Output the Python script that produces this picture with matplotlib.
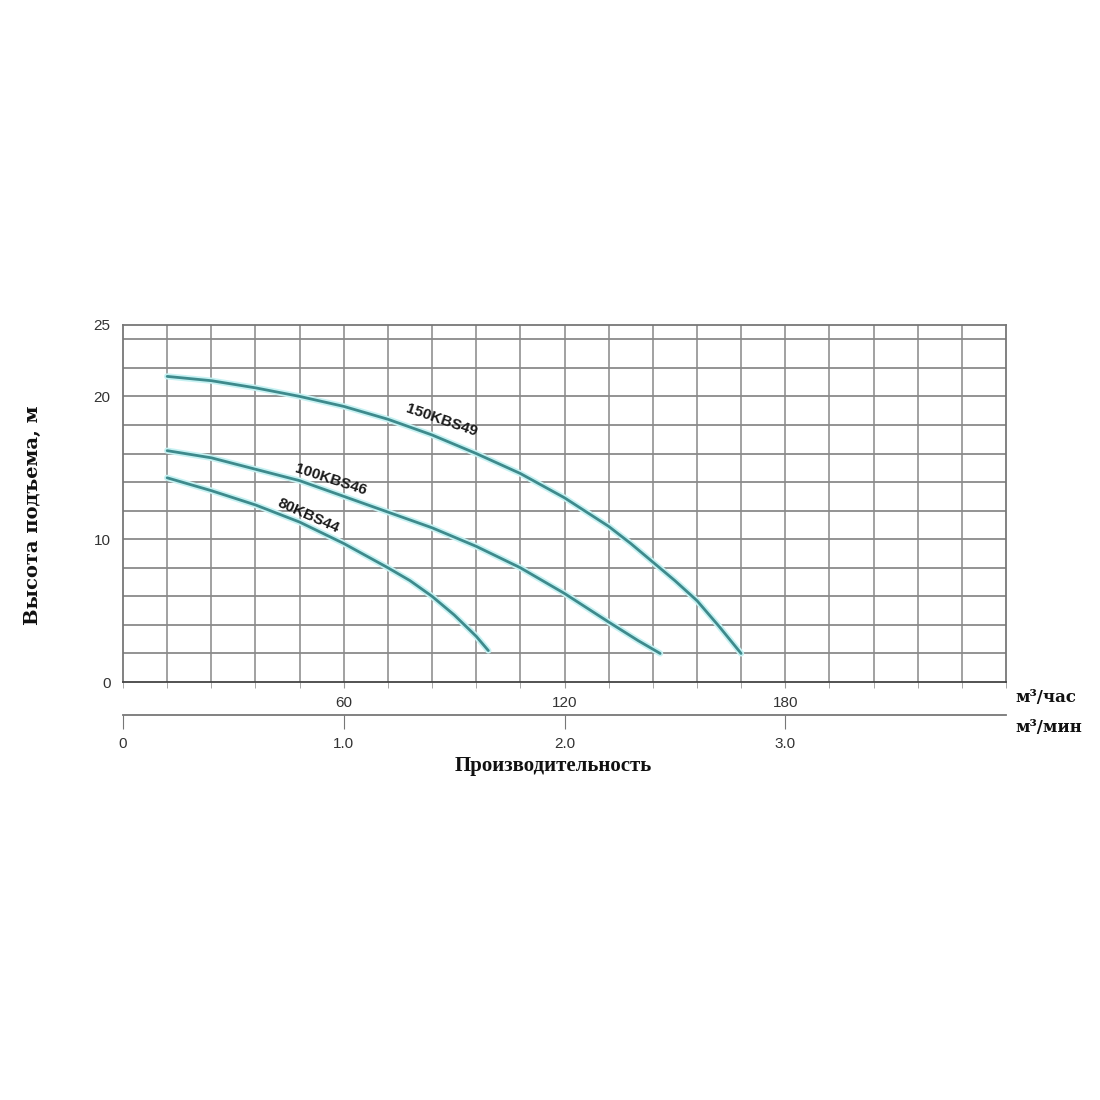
import numpy as np
import matplotlib
matplotlib.use("Agg")
import matplotlib.pyplot as plt
from matplotlib.ticker import MultipleLocator, FixedLocator

# flow, m3/h  ->  head, m
q_150 = [12, 24, 36, 48, 60, 72, 84, 96, 108, 120, 132, 138, 144, 150, 156, 162, 168]
h_150 = [21.4, 21.1, 20.6, 20.0, 19.3, 18.4, 17.3, 16.0, 14.6, 12.9, 10.9, 9.7, 8.4, 7.1, 5.7, 3.9, 2.0]

q_100 = [12, 24, 36, 48, 60, 72, 84, 96, 108, 120, 132, 140, 146]
h_100 = [16.2, 15.7, 14.9, 14.1, 13.0, 11.9, 10.8, 9.5, 8.0, 6.2, 4.2, 2.9, 2.0]

q_80 = [12, 24, 36, 48, 60, 72, 78, 84, 90, 96, 99.3]
h_80 = [14.3, 13.4, 12.4, 11.2, 9.7, 8.0, 7.1, 6.0, 4.7, 3.2, 2.2]

names = ["150KBS49", "100KBS46", "80KBS44"]
y_ticks = [0, 10, 20, 25]
x_ticks = [60, 120, 180]
min_ticks = [0, 1, 2, 3]
min_labels = ["0", "1.0", "2.0", "3.0"]

fig = plt.figure(figsize=(11, 11), dpi=100)
ax = fig.add_axes([123/1100, 1 - 682/1100, 883/1100, 357/1100])

ax.set_xlim(0, 240)
ax.set_ylim(0, 25)

# grid
for gx in np.arange(12, 240, 12):
    ax.axvline(gx, color="#9a9a9a", lw=1.3, zorder=1)
for gy in np.arange(2, 25, 2):
    ax.axhline(gy, color="#8a8a8a", lw=1.3, zorder=1)

for s in ax.spines.values():
    s.set_color("#777777")
    s.set_linewidth(1.3)
ax.spines["bottom"].set_color("#444444")

curves = [(q_150, h_150), (q_100, h_100), (q_80, h_80)]
for q, h in curves:
    ax.plot(q, h, color="#c6f2f3", lw=4.5, solid_capstyle="round", solid_joinstyle="round", zorder=2)
    ax.plot(q, h, color="#3e8a8c", lw=2.0, solid_capstyle="round", solid_joinstyle="round", zorder=3)

label_pos = [(86.5, 18.35, -19), (56.5, 14.15, -18), (50.5, 11.65, -24)]
for name, (lx, ly, rot) in zip(names, label_pos):
    ax.text(lx, ly, name, rotation=rot, rotation_mode="anchor", ha="center", va="center",
            fontsize=11, fontweight="bold", family="Liberation Sans", color="#1a1a1a", zorder=4)

ax.yaxis.set_major_locator(FixedLocator(y_ticks))
ax.xaxis.set_major_locator(FixedLocator(x_ticks))
ax.xaxis.set_minor_locator(MultipleLocator(12))
ax.tick_params(axis="y", length=0, pad=9, labelsize=11, labelcolor="#333333")
ax.tick_params(axis="x", which="both", length=4, color="#999999", direction="out", pad=6,
               labelsize=11, labelcolor="#333333")
for lab in ax.get_xticklabels() + ax.get_yticklabels():
    lab.set_family("Liberation Sans")

# second scale in m3/min
sec = ax.secondary_xaxis(-0.092, functions=(lambda x: x / 60, lambda x: x * 60))
sec.xaxis.set_major_locator(FixedLocator(min_ticks))
sec.set_xticklabels(min_labels)
sec.spines["bottom"].set_color("#777777")
sec.spines["bottom"].set_linewidth(1.3)
sec.tick_params(axis="x", length=10, color="#777777", direction="out", pad=6,
                labelsize=11, labelcolor="#333333")
for lab in sec.get_xticklabels():
    lab.set_family("Liberation Sans")

wide = dict(family="DejaVu Serif", fontweight="bold", color="#111111")
fig.text(1015/1100, 1 - 697/1100, "м³/час", ha="left", va="center", fontsize=12, **wide)
fig.text(1015/1100, 1 - 728/1100, "м³/мин", ha="left", va="center", fontsize=12, **wide)
fig.text(553/1100, 1 - 766/1100, "Производительность", ha="center", va="center", fontsize=15,
         family="Liberation Serif", fontweight="bold", color="#111111")
fig.text(33/1100, 1 - 515/1100, "Высота подъема, м", ha="center", va="center", rotation=90,
         fontsize=14, **wide)

fig.savefig("out.png", dpi=100, facecolor="white")
